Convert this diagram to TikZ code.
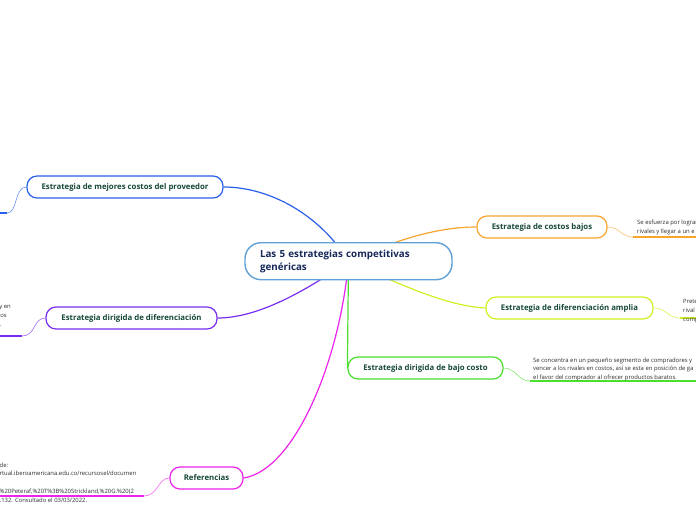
\documentclass[tikz,border=0pt]{standalone}
\usepackage{fontspec}
\setmainfont{Open Sans}
\usetikzlibrary{backgrounds}
\definecolor{cblue}{RGB}{40,95,235}
\definecolor{corange}{RGB}{247,165,45}
\definecolor{clime}{RGB}{205,240,35}
\definecolor{cgreen}{RGB}{75,222,45}
\definecolor{cpurple}{RGB}{120,45,240}
\definecolor{cmag}{RGB}{235,35,235}
\definecolor{ccenter}{RGB}{95,160,215}
\definecolor{brtext}{RGB}{22,72,58}
\definecolor{ctext}{RGB}{22,40,90}
\definecolor{subtext}{RGB}{45,45,45}
\begin{document}
\begin{tikzpicture}[x=1pt,y=-1pt,
 branch/.style={draw, line width=1.2pt, fill=white, rounded corners=10pt, minimum height=22pt, inner sep=0pt, font=\fontsize{7.8}{9}\selectfont\bfseries, text=brtext},
 central/.style={draw=ccenter, line width=1.4pt, fill=white, rounded corners=16pt, minimum width=207pt, minimum height=37pt, text width=177pt, inner xsep=15pt, inner ysep=0pt, align=left, font=\fontsize{9.8}{13.5}\selectfont\bfseries, text=ctext},
 link/.style={line width=1.2pt},
 sublink/.style={line width=0.6pt},
 underline/.style={line width=1.5pt},
 note/.style={inner sep=0pt, align=left, font=\fontsize{5.9}{8.8}\selectfont, text=subtext},
]
\useasboundingbox (0,0) rectangle (696,520);
\clip (0,0) rectangle (696,520);

% main nodes
\node[central] (ctr) at (348.5,261.2) {Las 5 estrategias competitivas\\genéricas};
\node[branch, draw=cblue, minimum width=196pt] (b1) at (125,187) {Estrategia de mejores costos del proveedor};
\node[branch, draw=corange, minimum width=130pt] (b2) at (542,227) {Estrategia de costos bajos};
\node[branch, draw=clime, minimum width=167pt] (b3) at (569.5,308) {Estrategia de diferenciación amplia};
\node[branch, draw=cgreen, minimum width=155pt] (b4) at (425.5,368) {Estrategia dirigida de bajo costo};
\node[branch, draw=cpurple, minimum width=171pt] (b5) at (131.5,318) {Estrategia dirigida de diferenciación};
\node[branch, draw=cmag, minimum width=73pt] (b6) at (206.5,478) {Referencias};

% free ends of the sub connectors
\coordinate (u1a) at (7,213);   \coordinate (u1b) at (0,213);
\coordinate (u2a) at (633,237); \coordinate (u2b) at (696,237);
\coordinate (u3a) at (680,318); \coordinate (u3b) at (696,318);
\coordinate (u4a) at (530,381); \coordinate (u4b) at (696,381);
\coordinate (u5a) at (22,336);  \coordinate (u5b) at (0,336);
\coordinate (u6a) at (144,496); \coordinate (u6b) at (0,496);

% notes
\node[note, anchor=north west] (n2) at (637,219.5) {Se esfuerza por lograr\\rivales y llegar a un e};
\node[note, anchor=north west] (n3) at (683,299.5) {Prete\\rival\\comp};
\node[note, anchor=north west, font=\fontsize{5.9}{8.5}\selectfont] (n4) at (533,357.5) {Se concentra en un pequeño segmento de compradores y\\vencer a los rivales en costos, así se esta en posición de ga\\el favor del comprador al ofrecer productos baratos.};
\node[note, anchor=base east] (n5a) at (11,308.5) {y en};
\node[note, anchor=base east] (n5b) at (7,317.5) {os};
\node[note, anchor=base east] (n5c) at (2,326.5) {.};
\node[note, anchor=north west] (n6) at (-0.5,462.5) {de:\\rtual.iberoamericana.edu.co/recursosel/documen\\\strut\\\%20Peteraf,\%20T\%3B\%20Strickland,\%20G.\%20(2\\.132. Consultado el 03/03/2022.};

\begin{scope}[on background layer]
\clip (0,0) rectangle (696,520);
% main connectors
\draw[link, cblue] (b1.east) .. controls (270,187) and (320,215) .. (ctr.center);
\draw[link, corange] (b2.west) .. controls (440,227) and (400,238) .. (ctr.center);
\draw[link, clime] (b3.west) .. controls (445,306) and (395,282) .. (ctr.center);
\draw[link, cgreen] (ctr.center) -- (b4.west);
\draw[link, cpurple] (b5.east) .. controls (255,318) and (300,295) .. (ctr.center);
\draw[link, cmag] (b6.east) .. controls (295,470) and (340,360) .. (ctr.center);
% sub connectors
\draw[sublink, cblue!70] (b1.west) .. controls (14,187) and (18,213) .. (u1a);
\draw[underline, cblue] (u1a) -- (u1b);
\draw[sublink, corange!70] (b2.east) .. controls (620,227) and (621,237) .. (u2a);
\draw[underline, corange] (u2a) -- (u2b);
\draw[sublink, clime!80] (b3.east) .. controls (666,308) and (668,318) .. (u3a);
\draw[underline, clime] (u3a) -- (u3b);
\draw[sublink, cgreen!70] (b4.east) .. controls (516,368) and (518,381) .. (u4a);
\draw[underline, cgreen] (u4a) -- (u4b);
\draw[sublink, cpurple!70] (b5.west) .. controls (33,318) and (36,336) .. (u5a);
\draw[underline, cpurple] (u5a) -- (u5b);
\draw[sublink, cmag!70] (b6.west) .. controls (158,478) and (158,496) .. (u6a);
\draw[underline, cmag] (u6a) -- (u6b);
\end{scope}
\end{tikzpicture}
\end{document}
